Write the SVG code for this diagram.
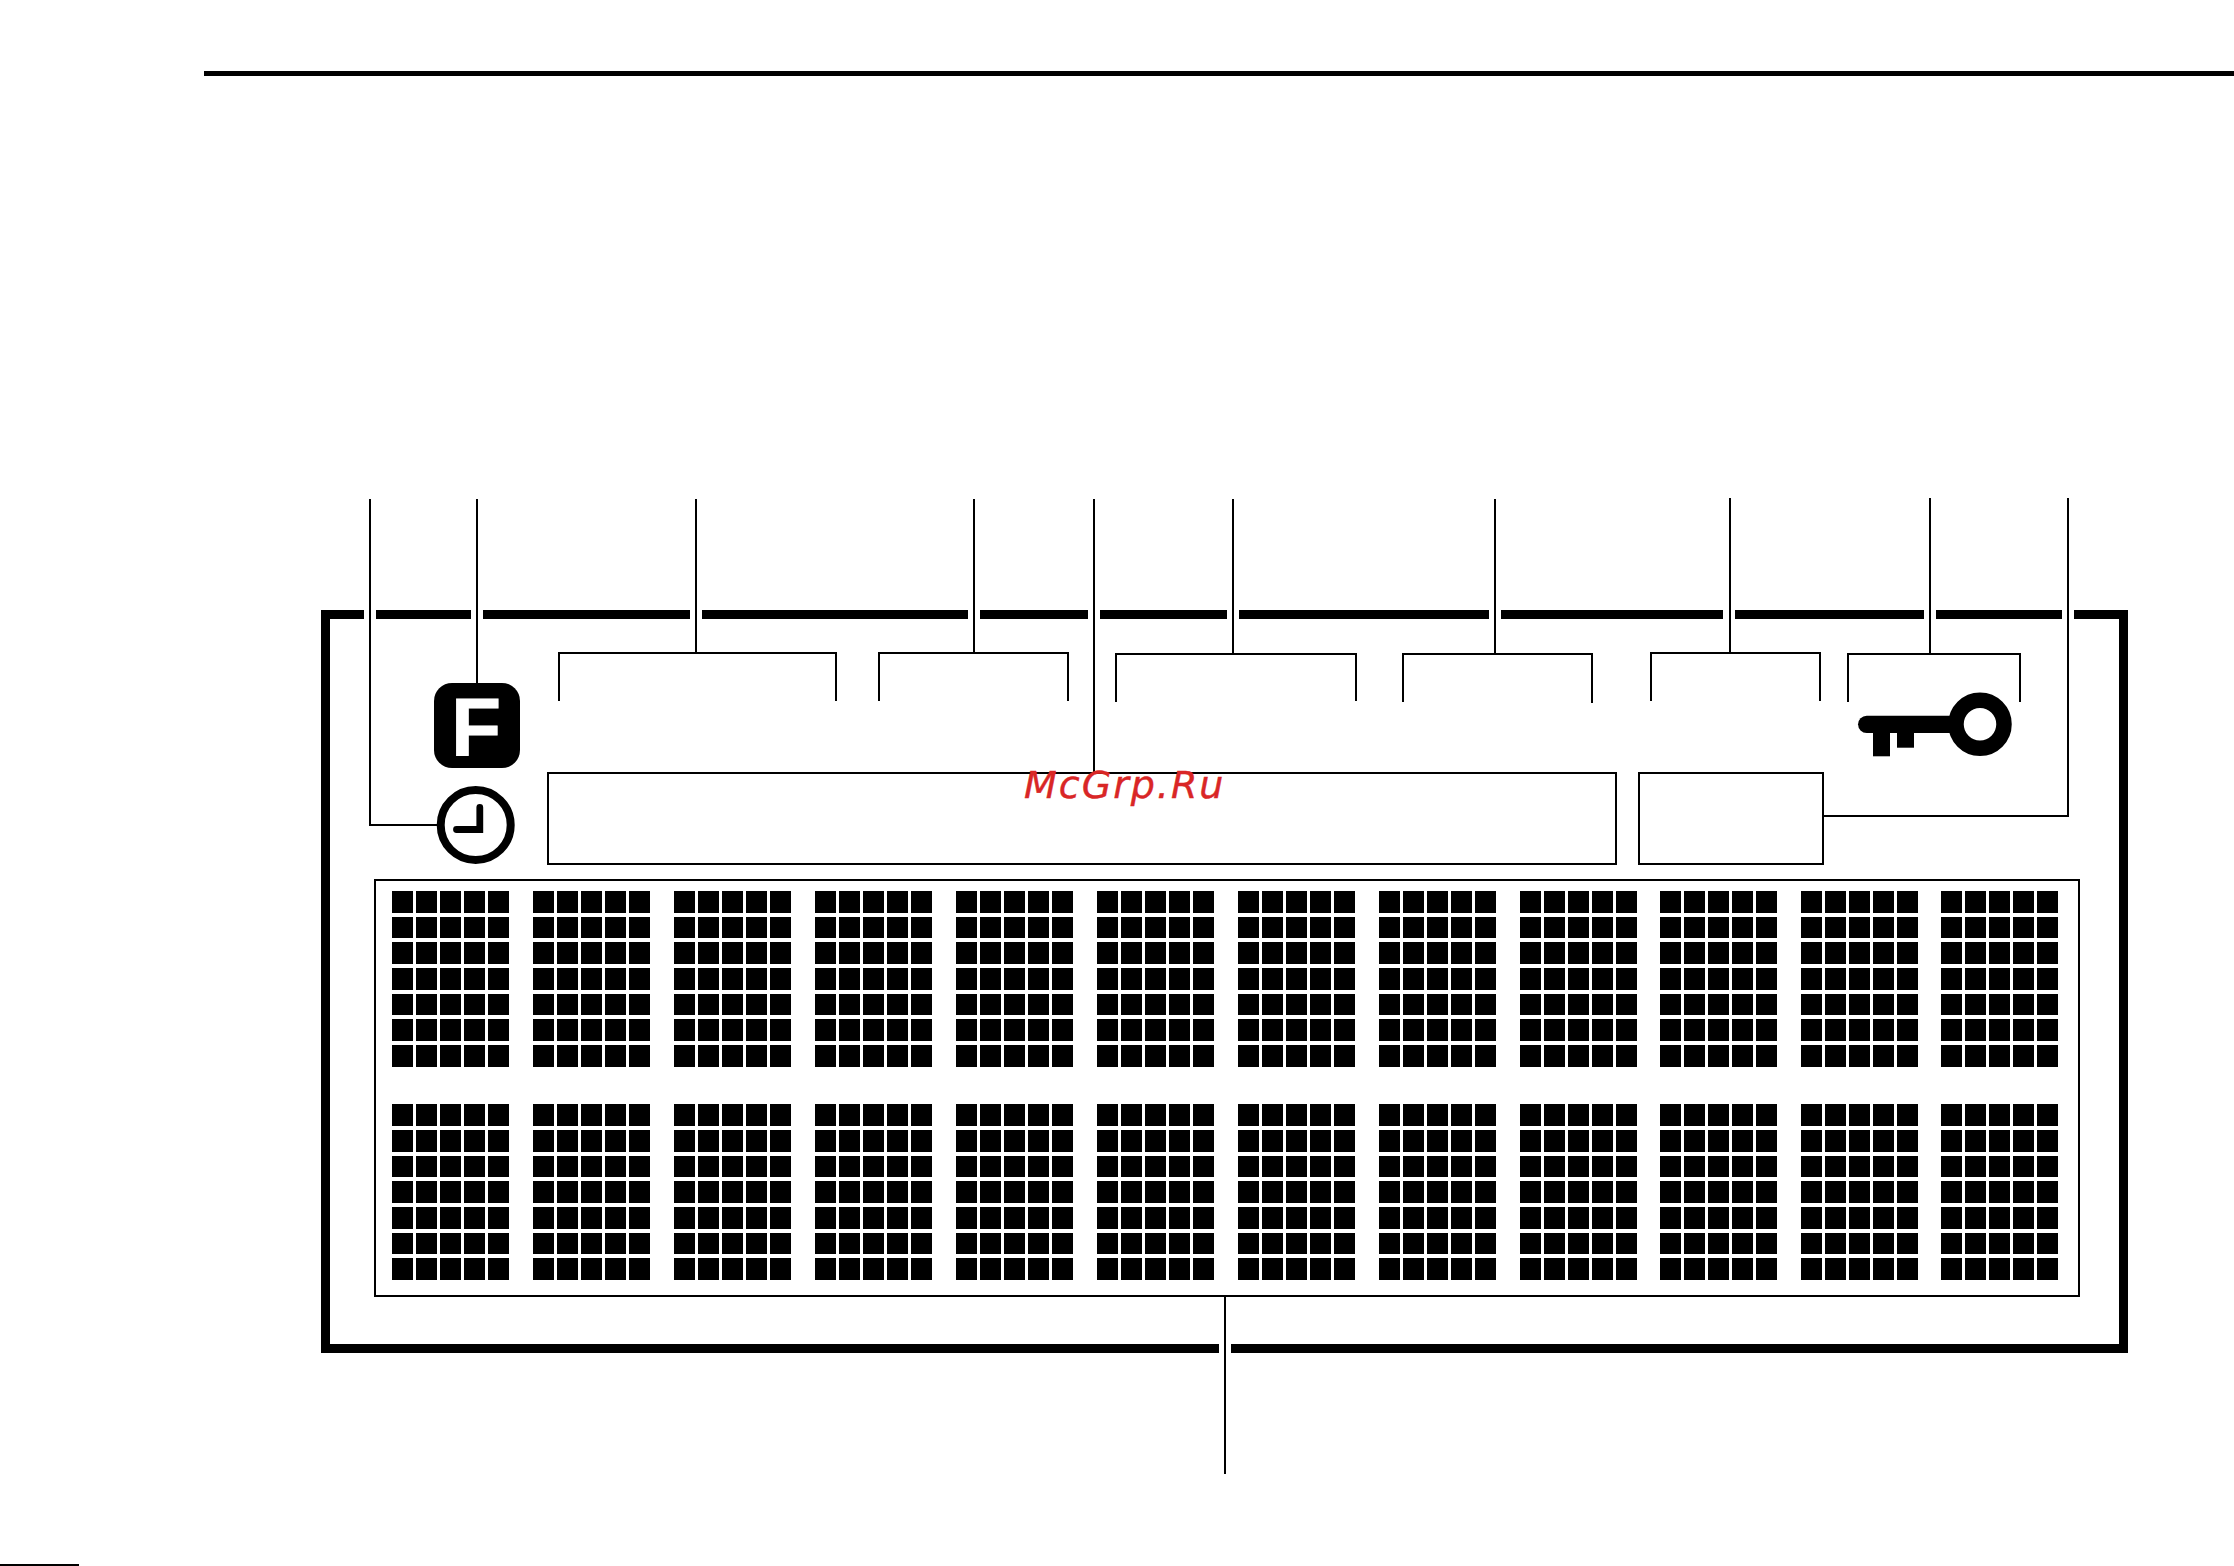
<svg xmlns="http://www.w3.org/2000/svg" xmlns:xlink="http://www.w3.org/1999/xlink" width="2234" height="1566" viewBox="0 0 2234 1566">
<style>
.ln{fill:none;stroke:#000;stroke-width:2;stroke-linecap:butt;stroke-linejoin:miter}
.fr{fill:none;stroke:#000;stroke-width:9;stroke-linejoin:miter}
.rule{fill:#000}
.r,.s{fill:none;stroke:#000;stroke-dasharray:21 3}
.r{stroke-width:22}
.s{stroke-width:21}
.wm{font-family:"DejaVu Sans",sans-serif;font-style:oblique;font-size:38px;letter-spacing:2px;fill:#d92626;stroke:#d92626;stroke-width:.4px}
.f{font-family:"Liberation Sans",Arial,sans-serif;font-weight:700;font-size:82px;fill:#fff;stroke:#fff;stroke-width:.8px}
</style>
<defs>
<g id="charA">
<path class="r" d="M0 11H117M0 62H117M0 88H117M0 139H117M0 165H117"/>
<path class="s" d="M0 36.500H117M0 113.500H117"/>
</g>
<g id="charB">
<path class="r" d="M0 11H117M0 37H117M0 88H117M0 114H117M0 165H117"/>
<path class="s" d="M0 62.500H117M0 139.500H117"/>
</g>
</defs>
<rect width="2234" height="1566" fill="#fff"/>
<rect class="rule" x="204" y="71" width="2030" height="5"/>
<rect class="rule" x="0" y="1564" width="79" height="2"/>

<g id="display-frame">
<path class="fr" d="M364 614.500H325.500V1348.500H1219M1231 1348.500H2123.500V614.500H2074M2062 614.500H1936M1924 614.500H1735M1723 614.500H1501M1489 614.500H1239M1227 614.500H1100M1088 614.500H980M968 614.500H702M690 614.500H483M471 614.500H376"/>
</g>

<g id="connectors">
<path class="ln" d="M370 499V825H437"/>
<path class="ln" d="M477 499V684"/>
<path class="ln" d="M696 499V653"/>
<path class="ln" d="M974 499V653"/>
<path class="ln" d="M1094 499V773"/>
<path class="ln" d="M1233 499V654"/>
<path class="ln" d="M1495 499V654"/>
<path class="ln" d="M1730 498V653"/>
<path class="ln" d="M1930 498V654"/>
<path class="ln" d="M2068 498V816H1823"/>
<path class="ln" d="M1225 1296V1474"/>
</g>

<g id="bracket-1"><path class="ln" d="M559 701V653H836V701"/></g>
<g id="bracket-2"><path class="ln" d="M879 701V653H1068V701"/></g>
<g id="bracket-3"><path class="ln" d="M1116 702V654H1356V701"/></g>
<g id="bracket-4"><path class="ln" d="M1403 702V654H1592V703"/></g>
<g id="bracket-5"><path class="ln" d="M1651 701V653H1820V701"/></g>
<g id="bracket-6"><path class="ln" d="M1848 702V654H2020V702"/></g>

<g id="f-icon">
<rect x="434" y="683" width="86" height="85" rx="18" fill="#000"/>
<text class="f" x="451" y="756">F</text>
</g>

<g id="clock-icon">
<circle cx="475.700" cy="825" r="35" fill="none" stroke="#000" stroke-width="8"/>
<path d="M456.500 829.500H479.800V807.500" fill="none" stroke="#000" stroke-width="6.800" stroke-linecap="round"/>
</g>

<g id="key-icon">
<path d="M1866.700 724.300H1960" fill="none" stroke="#000" stroke-width="17.300" stroke-linecap="round"/>
<rect x="1873" y="730" width="17" height="26.300" fill="#000"/>
<rect x="1897" y="730" width="17" height="17.700" fill="#000"/>
<circle cx="1980" cy="724.300" r="24" fill="#fff" stroke="#000" stroke-width="15.500"/>
</g>

<g id="text-box"><rect class="ln" x="548" y="773" width="1068" height="91"/></g>
<g id="small-box"><rect class="ln" x="1639" y="773" width="184" height="91"/></g>

<g id="dot-matrix">
<rect class="ln" x="375" y="880" width="1704" height="416"/>
<g id="row-1">
<use xlink:href="#charA" href="#charA" x="392" y="891"/>
<use xlink:href="#charA" href="#charA" x="533" y="891"/>
<use xlink:href="#charA" href="#charA" x="674" y="891"/>
<use xlink:href="#charA" href="#charA" x="815" y="891"/>
<use xlink:href="#charA" href="#charA" x="956" y="891"/>
<use xlink:href="#charA" href="#charA" x="1097" y="891"/>
<use xlink:href="#charA" href="#charA" x="1238" y="891"/>
<use xlink:href="#charA" href="#charA" x="1379" y="891"/>
<use xlink:href="#charA" href="#charA" x="1520" y="891"/>
<use xlink:href="#charA" href="#charA" x="1660" y="891"/>
<use xlink:href="#charA" href="#charA" x="1801" y="891"/>
<use xlink:href="#charA" href="#charA" x="1941" y="891"/>
</g>
<g id="row-2">
<use xlink:href="#charB" href="#charB" x="392" y="1104"/>
<use xlink:href="#charB" href="#charB" x="533" y="1104"/>
<use xlink:href="#charB" href="#charB" x="674" y="1104"/>
<use xlink:href="#charB" href="#charB" x="815" y="1104"/>
<use xlink:href="#charB" href="#charB" x="956" y="1104"/>
<use xlink:href="#charB" href="#charB" x="1097" y="1104"/>
<use xlink:href="#charB" href="#charB" x="1238" y="1104"/>
<use xlink:href="#charB" href="#charB" x="1379" y="1104"/>
<use xlink:href="#charB" href="#charB" x="1520" y="1104"/>
<use xlink:href="#charB" href="#charB" x="1660" y="1104"/>
<use xlink:href="#charB" href="#charB" x="1801" y="1104"/>
<use xlink:href="#charB" href="#charB" x="1941" y="1104"/>
</g>
</g>

<text class="wm" x="1024" y="798">McGrp.Ru</text>
</svg>
